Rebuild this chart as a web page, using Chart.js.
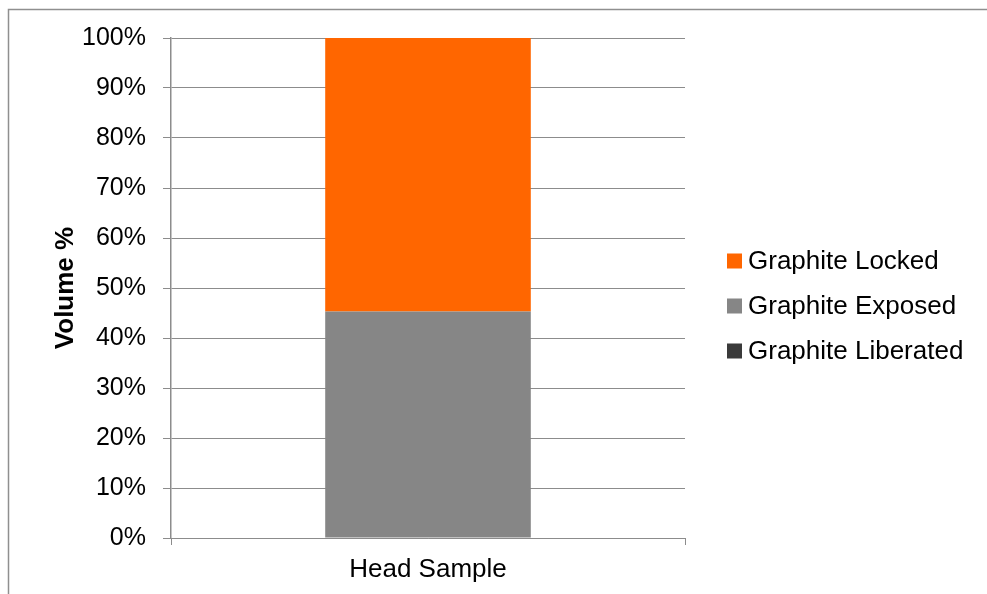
<!DOCTYPE html>
<html>
<head>
<meta charset="utf-8">
<script src="https://cdn.jsdelivr.net/npm/chart.js@4/dist/chart.umd.min.js"></script>
<style>
  html, body { margin: 0; padding: 0; background: #fff; }
  #wrap { width: 987px; height: 594px; }
</style>
</head>
<body>
<div id="wrap"><canvas id="myChart" width="987" height="594"></canvas></div>
<script>
// Liberation state of graphite in the head sample (volume %)
const categories = ['Head Sample']
const liberated = [0]
const exposed = [45.3]
const locked = [54.7]

const gridColor = '#8c8c8c'
const fontFamily = '"Liberation Sans", Arial, sans-serif'

// grey frame round the whole chart, open at right and bottom
const framePlugin = {
  id: 'frame',
  beforeDraw(chart) {
    const c = chart.ctx
    c.save()
    c.fillStyle = '#fff'
    c.fillRect(0, 0, chart.width, chart.height)
    c.strokeStyle = '#8f8f8f'
    c.lineWidth = 1.5
    c.strokeRect(8.5, 9.5, chart.width + 20, chart.height + 20)
    c.restore()
  },
}

// legend drawn by hand so it sits well clear of the plot
const sideLegend = {
  id: 'sideLegend',
  afterDraw(chart) {
    const c = chart.ctx
    const items = chart.data.datasets.slice().reverse()
    c.save()
    c.font = '26px ' + fontFamily
    c.textBaseline = 'middle'
    c.textAlign = 'left'
    items.forEach((ds, i) => {
      const y = 261 + i * 45
      c.fillStyle = ds.backgroundColor
      c.fillRect(727, y - 7.5, 15, 15)
      c.fillStyle = '#000'
      c.fillText(ds.label, 748, y + 1)
    })
    c.restore()
  },
}

const ctx = document.getElementById('myChart').getContext('2d')

new Chart(ctx, {
  type: 'bar',
  data: {
    labels: categories,
    datasets: [
      { label: 'Graphite Liberated', data: liberated, backgroundColor: '#3a3a3a' },
      { label: 'Graphite Exposed', data: exposed, backgroundColor: '#868686' },
      { label: 'Graphite Locked', data: locked, backgroundColor: '#ff6600' },
    ],
  },
  options: {
    responsive: false,
    animation: false,
    layout: {
      padding: { left: 46, top: 38, right: 302, bottom: 0 },
    },
    datasets: {
      bar: { categoryPercentage: 0.8, barPercentage: 0.5, borderWidth: 0 },
    },
    plugins: {
      legend: { display: false },
      tooltip: { enabled: false },
    },
    scales: {
      x: {
        stacked: true,
        afterFit: (scale) => { scale.height = 56 },
        grid: {
          offset: true,
          drawOnChartArea: false,
          drawTicks: true,
          tickLength: 7,
          color: gridColor,
        },
        border: { color: gridColor, width: 1 },
        ticks: {
          color: '#000',
          padding: 9,
          font: { family: fontFamily, size: 26 },
        },
      },
      y: {
        stacked: true,
        min: 0,
        max: 100,
        afterFit: (scale) => { scale.width = 125 },
        grid: { color: gridColor, tickLength: 8, lineWidth: 1 },
        border: { color: gridColor, width: 1.5 },
        ticks: {
          stepSize: 10,
          padding: 17,
          color: '#000',
          font: { family: fontFamily, size: 25 },
          callback: (v) => v + '%',
        },
        title: {
          display: true,
          text: 'Volume %',
          color: '#000',
          padding: { top: 4, bottom: 21 },
          font: { family: fontFamily, size: 26, weight: 'bold' },
        },
      },
    },
  },
  plugins: [framePlugin, sideLegend],
})
</script>
</body>
</html>
